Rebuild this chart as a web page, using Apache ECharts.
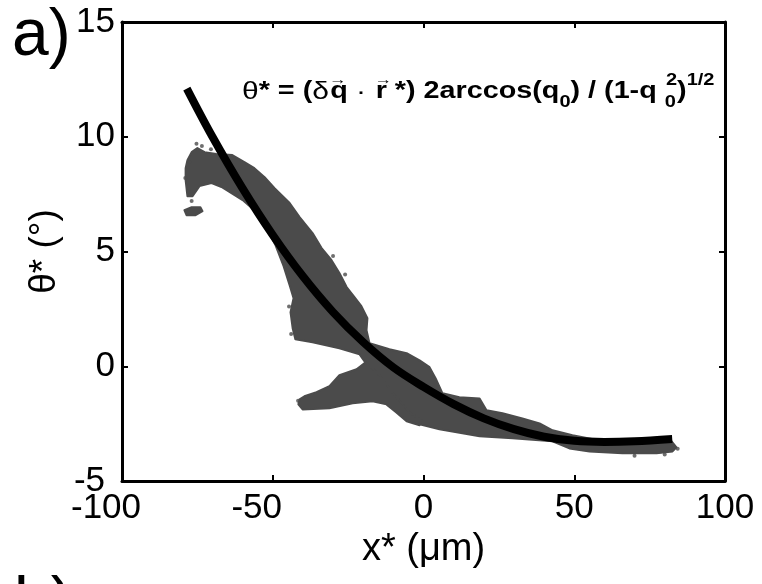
<!DOCTYPE html>
<html>
<head>
<meta charset="utf-8">
<script src="https://cdn.jsdelivr.net/npm/echarts@6/dist/echarts.min.js"></script>
<style>
html,body{margin:0;padding:0;background:#fff;}
#chart{width:762px;height:584px;}
</style>
</head>
<body>
<div id="chart"></div>
<script>
// ---- data (data units) ----
var xTicks = [-100, -50, 0, 50, 100];
var yTicks = [-5, 0, 5, 10, 15];

// fitted curve theta*(x*)
var fitCurve = [
  [-78.5, 12.1], [-70, 10.0], [-60, 7.75], [-50, 5.72], [-40, 3.92], [-30, 2.36],
  [-20, 1.05], [-10, -0.05], [0, -0.9], [10, -1.65], [20, -2.27], [30, -2.74],
  [40, -3.07], [50, -3.25], [60, -3.3], [70, -3.27], [82.5, -3.17]
];

// outline of the dense measured point cloud (main band)
var cloudMain = [
  [-78.9, 8.63], [-78.3, 8.98], [-76.9, 9.33], [-75.0, 9.51], [-72.6, 9.33], [-68.7, 9.25],
  [-63.4, 9.20], [-59.4, 8.90], [-56.1, 8.63], [-52.7, 8.24], [-49.4, 7.76], [-44.4, 7.11],
  [-41.1, 6.50], [-36.8, 5.80], [-33.8, 5.15], [-30.5, 4.62], [-27.9, 4.06], [-25.5, 3.45],
  [-22.9, 3.01], [-20.6, 2.62], [-18.6, 2.09], [-18.9, 1.57], [-17.9, 1.00], [-11.3, 0.74],
  [-5.6, 0.57], [-1.3, 0.26], [2.0, -0.04], [4.0, -0.52], [6.3, -1.18], [11.9, -1.35],
  [18.6, -1.40], [20.9, -1.92], [26.2, -2.05], [32.8, -2.27], [38.5, -2.49], [42.8, -2.79],
  [49.4, -3.01], [58.4, -3.23], [71.6, -3.31], [82.3, -3.27], [83.9, -3.53], [82.6, -3.71],
  [77.3, -3.79], [66.0, -3.79], [55.1, -3.71], [48.4, -3.58], [42.8, -3.27], [29.5, -3.14],
  [18.6, -3.05], [12.9, -2.92], [5.3, -2.75], [-1.3, -2.53], [-5.6, -2.27], [-9.6, -1.70],
  [-14.6, -1.05], [-17.2, -0.39], [-18.6, 0.04], [-21.2, 0.52], [-27.9, 0.78], [-36.8, 1.05],
  [-42.5, 1.18], [-43.4, 1.66], [-44.1, 2.35], [-43.1, 2.97], [-44.4, 3.53], [-46.4, 4.36],
  [-49.1, 5.28], [-52.7, 6.15], [-56.1, 6.80], [-60.0, 7.24], [-63.7, 7.54], [-67.0, 7.81],
  [-70.3, 7.98], [-74.3, 7.85], [-76.6, 7.41], [-78.3, 7.41], [-78.9, 8.11]
];

// lower-left arm of the cloud
var cloudArm = [
  [-41.1, -1.44], [-39.5, -1.31], [-35.5, -1.13], [-31.2, -0.87], [-27.9, -0.39], [-22.2, -0.13],
  [-19.2, 0.17], [-14.6, -0.39], [-9.6, -1.26], [-4.6, -2.01], [-0.7, -2.35], [-1.3, -2.57],
  [-5.6, -2.40], [-9.0, -2.01], [-12.3, -1.66], [-16.9, -1.53], [-23.5, -1.61], [-31.2, -1.83],
  [-40.1, -1.88], [-41.5, -1.66]
];

// small isolated blob at the far left
var cloudBlob = [
  [-79.3, 6.80], [-76.9, 6.93], [-74.0, 6.93], [-73.3, 6.76], [-75.6, 6.58], [-78.6, 6.58]
];

// isolated measured points at the cloud edges
var strayDots = [
  [-75.3, 9.7], [-77.5, 8.9], [-79.0, 8.2], [-78.0, 7.6], [-76.9, 7.2], [-73.5, 9.6], [-70.5, 9.45],
  [-44.6, 2.6], [-43.9, 1.4], [-41.6, -1.5], [-30.0, 4.8], [-26.0, 4.0],
  [84.3, -3.6], [80.0, -3.85], [70.0, -3.9]
];

var polygons = [cloudMain, cloudArm, cloudBlob];
var cloudColor = '#4b4b4b';
var FONT = '"Liberation Sans", Arial, sans-serif';

var chart = echarts.init(document.getElementById('chart'), null, {renderer: 'canvas'});

function axisCommon(extra) {
  var base = {
    type: 'value',
    axisLine: {show: true, onZero: false, lineStyle: {color: '#000', width: 3}},
    axisTick: {show: true, inside: true, length: 6, lineStyle: {color: '#000', width: 2}},
    splitLine: {show: false},
    axisLabel: {show: false}
  };
  for (var k in extra) base[k] = extra[k];
  return base;
}

var labelRich = {fontSize: 35, color: '#000', fontFamily: FONT};

var option = {
  animation: false,
  backgroundColor: '#fff',
  grid: {left: 122, right: 37, top: 22, bottom: 103, containLabel: false, outerBoundsMode: 'none'},
  xAxis: [
    axisCommon({
      position: 'bottom', min: xTicks[0], max: xTicks[xTicks.length - 1], interval: 50,
      axisLabel: {
        show: true, fontSize: 35, color: '#000', fontFamily: FONT, margin: 10,
        showMinLabel: true, showMaxLabel: true,
        formatter: function (v) { return v < 0 ? '{neg|' + v + '}' : '{pos|' + v + '}'; },
        rich: {
          neg: {fontSize: 35, color: '#000', fontFamily: FONT, padding: [0, 32, 0, 0]},
          pos: labelRich
        }
      },
      name: 'x* (μm)', nameLocation: 'middle', nameGap: 50,
      nameTextStyle: {fontSize: 38, color: '#000', fontFamily: FONT}
    }),
    axisCommon({position: 'top', min: xTicks[0], max: xTicks[xTicks.length - 1], interval: 50})
  ],
  yAxis: [
    axisCommon({
      position: 'left', min: yTicks[0], max: yTicks[yTicks.length - 1], interval: 5,
      axisLabel: {
        show: true, fontSize: 35, color: '#000', fontFamily: FONT, margin: 7,
        showMinLabel: true, showMaxLabel: true,
        formatter: function (v) { return v < 0 ? '{neg|' + v + '}' : '{pos|' + v + '}'; },
        rich: {
          neg: {fontSize: 35, color: '#000', fontFamily: FONT, padding: [0, 10, 0, 0]},
          pos: labelRich
        }
      },
      name: 'θ* (°)', nameLocation: 'middle', nameGap: 58, nameRotate: 90,
      nameTextStyle: {fontSize: 37, color: '#000', fontFamily: FONT}
    }),
    axisCommon({position: 'right', min: yTicks[0], max: yTicks[yTicks.length - 1], interval: 5})
  ],
  series: [
    {
      type: 'custom',
      coordinateSystem: 'cartesian2d',
      data: polygons.map(function (p, i) { return [p[0][0], p[0][1], i]; }),
      encode: {x: 0, y: 1},
      renderItem: function (params, api) {
        var poly = polygons[params.dataIndex];
        var pts = poly.map(function (d) { return api.coord(d); });
        return {
          type: 'polygon',
          shape: {points: pts},
          style: {fill: cloudColor, stroke: cloudColor, lineWidth: 2, lineJoin: 'round'}
        };
      },
      z: 2
    },
    {
      type: 'scatter',
      data: strayDots,
      symbol: 'circle',
      symbolSize: 4,
      itemStyle: {color: cloudColor},
      z: 2
    },
    {
      type: 'line',
      data: fitCurve,
      smooth: 0.35,
      symbol: 'none',
      lineStyle: {color: '#000', width: 8, cap: 'butt'},
      z: 5
    }
  ],
  graphic: [
    {
      type: 'text', left: 12, top: 4,
      style: {text: 'a)', fontSize: 66, fontFamily: FONT, fill: '#000'}
    },
    {
      type: 'text', left: 14, top: 572,
      style: {text: 'b)', fontSize: 66, fontFamily: FONT, fill: '#000'}
    },
    {
      type: 'text', x: 242, y: 92, scaleX: 1.25, scaleY: 1,
      style: {
        align: 'left', verticalAlign: 'middle',
        text: '{g|θ}{b|* = (}{g|δ}{arr|→}{b|q}{g| · }{arr|→}{b|r *) 2arccos(q}{sub|0}{b|) / (1-q }{subz|0}{sup|2}{b|)}{sup|1/2}',
        rich: {
          b: {fontSize: 23, fontWeight: 'bold', fontFamily: FONT, fill: '#000', lineHeight: 38},
          g: {fontSize: 24, fontFamily: FONT, fill: '#000', lineHeight: 38},
          arr: {fontSize: 14, fontFamily: FONT, fill: '#000', lineHeight: 10, verticalAlign: 'top', width: 1},
          sub: {fontSize: 16, fontWeight: 'bold', fontFamily: FONT, fill: '#000', lineHeight: 10, verticalAlign: 'bottom'},
          subz: {fontSize: 16, fontWeight: 'bold', fontFamily: FONT, fill: '#000', lineHeight: 10, verticalAlign: 'bottom', width: 1},
          sup: {fontSize: 16, fontWeight: 'bold', fontFamily: FONT, fill: '#000', lineHeight: 12, verticalAlign: 'top'}
        }
      },
      z: 10
    }
  ]
};
chart.setOption(option);
</script>
</body>
</html>
